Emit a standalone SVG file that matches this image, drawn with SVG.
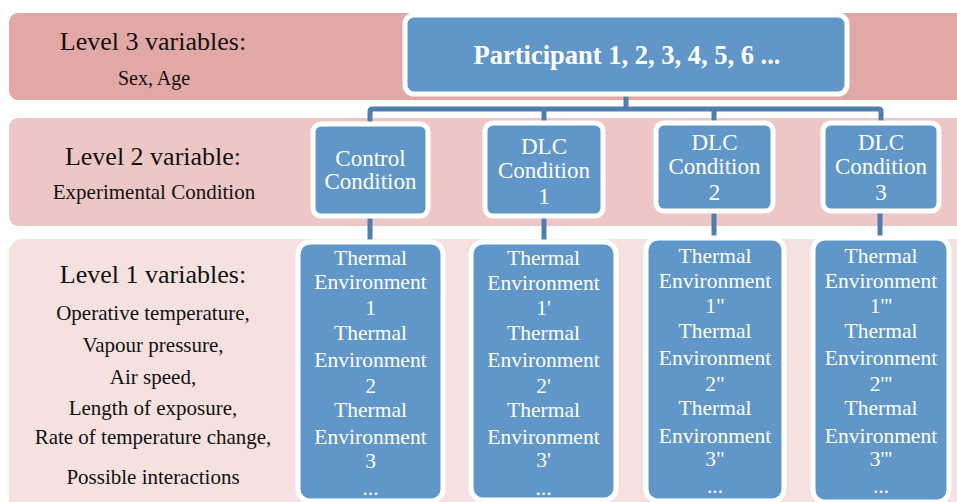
<svg xmlns="http://www.w3.org/2000/svg" width="957" height="502" viewBox="0 0 957 502">
  <style>
    .band1 { fill: #e1a8a6; }
    .band2 { fill: #edc7c6; }
    .band3 { fill: #f4e1e0; }
    .box { fill: #6096c8; stroke: #ffffff; stroke-width: 5; }
    .lbl { font-family: "Liberation Serif", "Times New Roman", serif; fill: #111111; text-anchor: middle; }
    .txt { font-family: "Liberation Serif", "Times New Roman", serif; fill: #ffffff; text-anchor: middle; }
    .link { fill: none; stroke: #4f7eae; stroke-width: 5; }
  </style>
  <rect width="957" height="502" fill="#ffffff"/>

  <!-- level bands -->
  <g id="bands">
    <rect class="band1" x="9" y="13" width="970" height="87" rx="9"/>
    <rect class="band2" x="9" y="118" width="970" height="108" rx="9"/>
    <rect class="band3" x="9" y="239" width="970" height="290" rx="14"/>
  </g>

  <!-- level descriptions -->
  <g id="level3-label">
    <text class="lbl" x="153" y="50" font-size="26">Level 3 variables:</text>
    <text class="lbl" x="154" y="85" font-size="20">Sex, Age</text>
  </g>
  <g id="level2-label">
    <text class="lbl" x="153" y="165" font-size="26">Level 2 variable:</text>
    <text class="lbl" x="154" y="199" font-size="21">Experimental Condition</text>
  </g>
  <g id="level1-label">
    <text class="lbl" x="153" y="283" font-size="26">Level 1 variables:</text>
    <text class="lbl" x="153" y="320" font-size="21">Operative temperature,</text>
    <text class="lbl" x="153" y="352" font-size="21">Vapour pressure,</text>
    <text class="lbl" x="153" y="384" font-size="21">Air speed,</text>
    <text class="lbl" x="153" y="415" font-size="21">Length of exposure,</text>
    <text class="lbl" x="153" y="444" font-size="21">Rate of temperature change,</text>
    <text class="lbl" x="153" y="484" font-size="21">Possible interactions</text>
  </g>

  <!-- connectors -->
  <g id="connectors">
    <path class="link" d="M626 95 V109"/>
    <path class="link" d="M370 124 V111.5 Q370 109 372.5 109 H878.5 Q881 109 881 111.5 V124"/>
    <path class="link" d="M544 109 V124"/>
    <path class="link" d="M714 109 V124"/>
    <path class="link" d="M370 216 V242"/>
    <path class="link" d="M544 216 V242"/>
    <path class="link" d="M714 211 V238"/>
    <path class="link" d="M880 211 V238"/>
  </g>

  <!-- level 3 node -->
  <g id="participant">
    <rect class="box" x="405" y="15" width="442" height="79" rx="9"/>
    <text class="txt" x="627" y="64" font-size="26.5" font-weight="bold">Participant 1, 2, 3, 4, 5, 6 ...</text>
  </g>

  <!-- level 2 nodes -->
  <g id="control-condition">
    <rect class="box" x="313" y="124" width="115" height="92" rx="8"/>
    <text class="txt" x="370.5" y="166" font-size="23">Control</text>
    <text class="txt" x="370.5" y="189" font-size="23">Condition</text>
  </g>
  <g id="dlc-condition-1">
    <rect class="box" x="485" y="123" width="118" height="93" rx="8"/>
    <text class="txt" x="544" y="154" font-size="23">DLC</text>
    <text class="txt" x="544" y="178" font-size="23">Condition</text>
    <text class="txt" x="544" y="204" font-size="23">1</text>
  </g>
  <g id="dlc-condition-2">
    <rect class="box" x="656" y="123" width="117" height="88" rx="8"/>
    <text class="txt" x="714.5" y="150" font-size="23">DLC</text>
    <text class="txt" x="714.5" y="174" font-size="23">Condition</text>
    <text class="txt" x="714.5" y="200" font-size="23">2</text>
  </g>
  <g id="dlc-condition-3">
    <rect class="box" x="823" y="123" width="116" height="88" rx="8"/>
    <text class="txt" x="881" y="150" font-size="23">DLC</text>
    <text class="txt" x="881" y="174" font-size="23">Condition</text>
    <text class="txt" x="881" y="200" font-size="23">3</text>
  </g>

  <!-- level 1 nodes -->
  <g id="control-environments">
    <rect class="box" x="298" y="242" width="145" height="259" rx="12"/>
    <g font-size="21.5">
      <text class="txt" x="370.5" y="265">Thermal</text>
      <text class="txt" x="370.5" y="289">Environment</text>
      <text class="txt" x="370.5" y="315">1</text>
      <text class="txt" x="370.5" y="340">Thermal</text>
      <text class="txt" x="370.5" y="367">Environment</text>
      <text class="txt" x="370.5" y="393">2</text>
      <text class="txt" x="370.5" y="417">Thermal</text>
      <text class="txt" x="370.5" y="444">Environment</text>
      <text class="txt" x="370.5" y="468">3</text>
      <text class="txt" x="370.5" y="495">...</text>
    </g>
  </g>
  <g id="dlc1-environments">
    <rect class="box" x="471" y="242" width="145" height="258" rx="12"/>
    <g font-size="21.5">
      <text class="txt" x="543.5" y="265">Thermal</text>
      <text class="txt" x="543.5" y="290">Environment</text>
      <text class="txt" x="543.5" y="315">1'</text>
      <text class="txt" x="543.5" y="340">Thermal</text>
      <text class="txt" x="543.5" y="367">Environment</text>
      <text class="txt" x="543.5" y="393">2'</text>
      <text class="txt" x="543.5" y="417">Thermal</text>
      <text class="txt" x="543.5" y="444">Environment</text>
      <text class="txt" x="543.5" y="467">3'</text>
      <text class="txt" x="543.5" y="495">...</text>
    </g>
  </g>
  <g id="dlc2-environments">
    <rect class="box" x="646" y="238" width="138" height="263" rx="12"/>
    <g font-size="21.5">
      <text class="txt" x="715" y="263">Thermal</text>
      <text class="txt" x="715" y="288">Environment</text>
      <text class="txt" x="715" y="313">1"</text>
      <text class="txt" x="715" y="338">Thermal</text>
      <text class="txt" x="715" y="365">Environment</text>
      <text class="txt" x="715" y="391">2"</text>
      <text class="txt" x="715" y="415">Thermal</text>
      <text class="txt" x="715" y="443">Environment</text>
      <text class="txt" x="715" y="466">3"</text>
      <text class="txt" x="715" y="493">...</text>
    </g>
  </g>
  <g id="dlc3-environments">
    <rect class="box" x="813" y="238" width="136" height="264" rx="12"/>
    <g font-size="21.5">
      <text class="txt" x="881" y="263">Thermal</text>
      <text class="txt" x="881" y="288">Environment</text>
      <text class="txt" x="881" y="313">1'''</text>
      <text class="txt" x="881" y="338">Thermal</text>
      <text class="txt" x="881" y="365">Environment</text>
      <text class="txt" x="881" y="391">2'''</text>
      <text class="txt" x="881" y="415">Thermal</text>
      <text class="txt" x="881" y="443">Environment</text>
      <text class="txt" x="881" y="466">3'''</text>
      <text class="txt" x="881" y="493">...</text>
    </g>
  </g>
</svg>
